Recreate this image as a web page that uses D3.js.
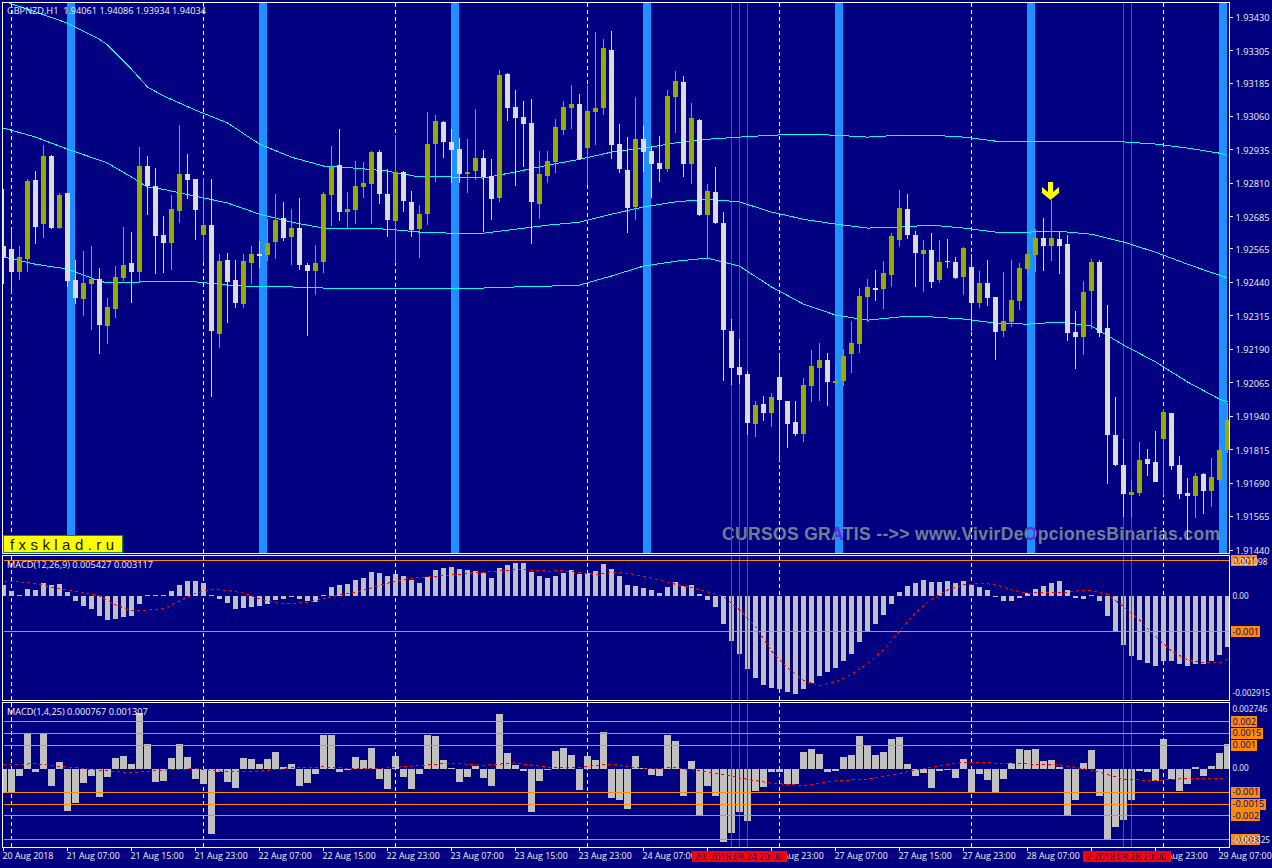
<!DOCTYPE html>
<html>
<head>
<meta charset="utf-8">
<title>GBPNZD,H1</title>
<script src="https://cdn.jsdelivr.net/npm/d3@7"></script>
<style>
  html, body { margin: 0; padding: 0; background: #000080; overflow: hidden; }
  svg { display: block; }
  text { font-family: "Open Sans", "Liberation Sans", sans-serif; font-size: 9.2px; fill: #f4f4fa; }
  .crisp { shape-rendering: crispEdges; }
</style>
</head>
<body>
<div id="chart-container"></div>
<script>
// All prices are MT4 points (price * 100000), MACD values are in 0.00001 units

var highs = [
  192788,192639,192576,192826,192856,192953,192915,192774,192774,192523,
  192557,192576,192493,192381,192501,192647,192628,192946,192912,192867,
  192688,192766,193028,192919,192826,192830,192826,192546,192550,192523,
  192546,192576,192594,192676,192770,192741,192714,192755,192512,192579,
  192778,192950,193013,192778,192893,192890,192930,192934,192863,192990,
  192856,192781,192729,193077,193065,193043,193013,192979,192975,193087,
  192934,192900,193234,193223,193159,193117,193125,192930,192930,193050,
  193117,193177,193144,193177,193376,193350,193379,193032,192983,193133,
  193025,192950,192987,193159,193230,193212,193110,193050,192807,192871,
  192703,192303,192228,192108,191996,192016,192027,192172,191996,191996,
  192082,192187,192213,192176,192131,192191,192295,192419,192452,192486,
  192519,192624,192785,192770,192631,192598,192624,192598,192601,192535,
  192572,192546,192482,192523,192385,192479,192523,192512,192576,192639,
  192680,192748,192628,192616,192333,192445,192527,192523,192355,192012,
  191855,191701,191843,191817,191884,191967,191952,191791,191709,191728,
  191728,191784,191840,191989
];
var lows = [
  192434,192400,192449,192479,192583,192605,192639,192639,192423,192359,
  192315,192262,192172,192209,192307,192445,192363,192438,192691,192471,
  192475,192486,192662,192751,192598,192516,192012,192194,192288,192344,
  192344,192434,192493,192519,192527,192594,192504,192486,192240,192392,
  192475,192651,192669,192639,192658,192755,192658,192733,192609,192512,
  192703,192609,192531,192654,192815,192904,192811,192811,192774,192822,
  192628,192673,192741,193043,192800,192871,192583,192676,192811,192849,
  192990,193013,192897,192803,192953,193065,192900,192849,192624,192673,
  192853,192755,192815,192853,192998,192834,192807,192688,192531,192658,
  192071,192056,192060,191869,191862,191921,191899,191772,191821,191866,
  191843,191993,191996,191978,192053,192053,192101,192176,192292,192370,
  192340,192423,192572,192601,192423,192404,192419,192438,192493,192452,
  192392,192258,192344,192352,192150,192236,192273,192337,192467,192479,
  192482,192519,192471,192221,192116,192169,192266,192236,191687,191754,
  191563,191560,191642,191716,191694,191645,191739,191631,191477,191560,
  191574,191601,191687,191802
];
var opens = [
  192576,192564,192479,192527,192822,192658,192912,192643,192774,192449,
  192377,192434,192452,192277,192340,192456,192512,192479,192875,192800,
  192616,192587,192706,192845,192826,192616,192654,192247,192523,192449,
  192359,192512,192546,192542,192591,192680,192609,192643,192504,192482,
  192516,192766,192878,192703,192710,192796,192807,192927,192770,192669,
  192853,192741,192639,192695,192957,193040,192965,192938,192845,192856,
  192904,192838,192755,193219,193095,193058,193036,192733,192838,192890,
  193009,193091,193106,192942,193077,193091,193308,192957,192860,192722,
  192975,192930,192886,192863,193133,193189,192882,193047,192691,192778,
  192662,192258,192124,192097,191910,191985,191952,192086,191996,191918,
  191873,192053,192120,192150,192064,192071,192172,192209,192385,192419,
  192415,192467,192598,192714,192616,192546,192561,192449,192519,192516,
  192460,192497,192363,192438,192385,192258,192292,192370,192490,192542,
  192605,192576,192601,192583,192254,192236,192408,192516,192269,191869,
  191758,191645,191653,191780,191769,191855,191952,191758,191653,191642,
  191724,191660,191701,191813
];
var closes = [
  192535,192479,192535,192818,192647,192912,192643,192766,192445,192381,
  192438,192452,192280,192348,192460,192504,192479,192875,192800,192613,
  192587,192714,192845,192822,192710,192654,192258,192519,192442,192363,
  192519,192546,192539,192587,192673,192605,192643,192504,192482,192512,
  192770,192871,192703,192714,192800,192811,192927,192770,192673,192853,
  192744,192635,192695,192957,193043,192965,192934,192845,192853,192904,
  192834,192751,193215,193091,193054,193032,192741,192845,192893,193021,
  193095,193106,192900,193080,193091,193316,192953,192863,192718,192975,
  192927,192882,192863,193137,193192,192882,193054,192691,192781,192662,
  192262,192120,192093,191914,191981,191952,192012,192000,191910,191873,
  192056,192128,192150,192068,192071,192165,192213,192389,192423,192411,
  192475,192613,192718,192616,192550,192561,192442,192516,192516,192456,
  192568,192363,192438,192381,192254,192295,192374,192493,192546,192605,
  192576,192605,192576,192251,192236,192404,192516,192251,191869,191758,
  191649,191657,191776,191761,191694,191955,191754,191649,191642,191716,
  191660,191713,191813,191925
];

// Moving average bands, read about every 4th bar plus the corners
var bandBars = [0,4,8,12,13,16,18,20,24,28,32,36,40,44,48,52,56,60,64,68,72,76,80,84,88,92,96,100,104,108,112,116,120,124,128,132,136,140,144,148,152,153];
var bandUpper = [193491,193451,193409,193349,193327,193237,193170,193137,193084,193036,192957,192908,192875,192867,192856,192834,192834,192830,192853,192878,192900,192927,192942,192961,192975,192983,192990,192994,192990,192983,192990,192990,192983,192968,192968,192968,192965,192965,192957,192942,192923,192915];
var bandMiddle = [193017,192983,192938,192897,192886,192834,192796,192788,192762,192737,192695,192665,192643,192643,192639,192628,192624,192624,192639,192654,192665,192695,192722,192741,192751,192741,192703,192676,192658,192643,192647,192654,192643,192628,192628,192631,192620,192591,192553,192508,192467,192456];
var bandLower = [192535,192508,192490,192445,192438,192438,192445,192445,192442,192430,192423,192423,192419,192419,192419,192419,192419,192419,192423,192426,192430,192464,192501,192519,192531,192501,192423,192359,192318,192299,192311,192311,192303,192288,192284,192292,192277,192206,192143,192068,192004,191993];

// MACD(12,26,9)
var macdAHist = [
  31,14,2,20,17,37,31,34,11,-14,
  -28,-37,-56,-68,-65,-59,-56,-23,2,4,
  2,14,31,42,42,37,2,-8,-20,-37,
  -34,-31,-28,-23,-11,-8,-2,-8,-14,-17,
  2,25,31,34,45,51,68,65,56,62,
  56,45,37,54,73,79,82,76,73,70,
  65,51,79,87,93,93,68,56,51,56,
  65,73,62,65,70,90,76,56,31,28,
  23,17,8,25,39,28,31,6,-11,-31,
  -79,-127,-163,-206,-231,-251,-259,-262,-270,-276,
  -262,-245,-225,-214,-203,-183,-163,-130,-99,-79,
  -54,-23,11,28,37,45,39,39,42,37,
  42,31,25,17,-3,-14,-14,-6,8,20,
  28,37,42,17,-6,-8,3,-14,-56,-99,
  -138,-169,-180,-189,-197,-183,-183,-192,-197,-192,
  -192,-183,-166,-144
];
var macdASignalBars = [0,2,4,6,8,10,12,14,16,18,20,22,24,26,28,30,32,34,36,38,40,42,44,46,48,50,52,54,56,58,60,62,64,66,68,70,72,74,76,78,80,82,84,86,88,90,92,94,96,98,100,102,104,106,108,110,112,114,116,118,120,122,124,126,128,130,132,134,136,138,140,142,144,146,148,150,152,153];
var macdASignal = [40,40,35,25,16,9,0,-25,-41,-40,-36,-14,8,19,16,8,-8,-19,-21,-17,-8,3,10,23,36,47,52,56,59,64,67,71,74,73,70,71,66,61,66,64,56,45,33,24,12,-2,-39,-86,-155,-202,-238,-252,-242,-221,-190,-152,-98,-47,-9,17,31,35,33,17,8,9,9,14,15,5,-30,-68,-115,-155,-180,-188,-188,-178];
var macdALevels = [100, -100];

// MACD(1,4,25)
var macdBHist = [
  -103,-97,-30,152,-13,152,-72,30,-178,-144,
  -59,-30,-118,-34,47,55,21,237,106,-55,
  -51,47,106,51,-42,-63,-275,-13,-55,-80,
  47,42,21,42,72,8,21,-72,-59,-21,
  144,144,-13,-4,51,38,89,-42,-85,55,
  -34,-85,-21,144,140,38,4,-55,-34,13,
  -38,-72,233,68,17,-8,-182,-51,-4,76,
  89,59,-89,55,38,157,-123,-131,-169,55,
  4,-25,-30,144,118,-114,34,-200,-72,-114,
  -309,-271,-182,-220,-93,-76,-13,-13,-63,-63,
  72,85,63,-13,-8,51,59,140,102,59,
  72,127,135,21,-30,-17,-80,-8,-4,-38,
  42,-103,-21,-47,-102,-42,25,85,80,85,
  34,38,8,-195,-131,25,80,-114,-296,-245,
  -216,-131,-8,-13,-51,127,-42,-93,-63,8,
  -30,13,68,106
];
var macdBSignalBars = [0,4,8,12,16,20,24,28,32,36,40,44,48,52,56,60,64,68,72,76,80,84,88,92,96,100,104,108,112,116,120,124,128,132,136,140,144,148,152,153];
var macdBSignal = [16,21,7,-6,-17,-6,0,-13,-11,3,8,0,3,14,24,14,25,6,6,20,0,4,-13,-39,-62,-71,-52,-44,-20,8,27,24,20,17,-6,-44,-51,-41,-42,-39];
var macdBLevels = [200, 150, 100, -100, -150, -200, -300];

var priceTicks = [193430,193305,193185,193060,192935,192810,192685,192565,192440,192315,192190,192065,191940,191815,191690,191565,191440];
var timeBars = [0,8,16,24,32,40,48,56,64,72,80,88,96,104,112,120,128,136,144,152];
// the two empty ones sit entirely under the red date tags
var timeLabels = ['20 Aug 2018','21 Aug 07:00','21 Aug 15:00','21 Aug 23:00','22 Aug 07:00','22 Aug 15:00','22 Aug 23:00','23 Aug 07:00','23 Aug 15:00','23 Aug 23:00','24 Aug 07:00','','24 Aug 23:00','27 Aug 07:00','27 Aug 15:00','27 Aug 23:00','28 Aug 07:00','','28 Aug 23:00','29 Aug 07:00'];
var separatorBars = [1,25,49,73,97,121,145];
var blueBars = [8,32,56,80,104,128,152];
var redLineBars = [91,92,93,140,141];
var arrowBar = 131;

var width = 1272, height = 868;
var plotLeft = 2.5, plotRight = 1229.5;

var bg = '#000080', olive = '#99AA00', gains = '#DCDCDC', silver = '#C0C0C0',
  cyan = '#00FFFF', blue = '#1E90FF', orange = '#FF8C00', crimson = '#DC143C';

var svg = d3.select('#chart-container').append('svg')
  .attr('width', width)
  .attr('height', height);

var defs = svg.append('defs');

var x = d3.scaleLinear().domain([0, 153]).range([3.5, 1227.5]);
var yPrice = d3.scaleLinear().domain([191440, 193430]).range([550, 17.5]);
var yA = d3.scaleLinear().domain([-100, 100]).range([631.5, 560.5]);
var yB = d3.scaleLinear().domain([-300, 200]).range([839.5, 721.5]);

// clip each panel to its frame
function addClip(id, top, bottom) {
  defs.append('clipPath').attr('id', id).append('rect')
    .attr('x', plotLeft + 0.5).attr('y', top)
    .attr('width', plotRight - plotLeft - 0.5).attr('height', bottom - top);
  return svg.append('g').attr('clip-path', 'url(#' + id + ')');
}

function verticals(g, bars, top, bottom, color, dash) {
  g.append('g').attr('class', 'crisp').selectAll('line')
    .data(bars).enter().append('line')
    .attr('x1', function (d) { return x(d); })
    .attr('x2', function (d) { return x(d); })
    .attr('y1', top).attr('y2', bottom)
    .attr('stroke', color)
    .attr('stroke-dasharray', dash);
}

// ---- main panel ----
var main = addClip('clip-main', 3, 553);

main.append('g').attr('class', 'crisp').selectAll('rect')
  .data(blueBars).enter().append('rect')
  .attr('x', function (d) { return x(d) - 0.5; })
  .attr('width', function (d) { return x(d + 1) - x(d); })
  .attr('y', 3).attr('height', 550)
  .attr('fill', blue);

// watermark turns purple where it crosses the blue bars
var markStart = 722, markWidth = 498;
var markFill = defs.append('linearGradient').attr('id', 'mark-fill')
  .attr('gradientUnits', 'userSpaceOnUse')
  .attr('x1', markStart).attr('x2', markStart + markWidth).attr('y1', 0).attr('y2', 0);
blueBars.forEach(function (b) {
  var a = (x(b) - 0.5 - markStart) / markWidth, e = (x(b + 1) - 0.5 - markStart) / markWidth;
  if (a < 0 || e > 1) return;
  markFill.append('stop').attr('offset', a).attr('stop-color', '#708090');
  markFill.append('stop').attr('offset', a).attr('stop-color', '#6A28D8');
  markFill.append('stop').attr('offset', e).attr('stop-color', '#6A28D8');
  markFill.append('stop').attr('offset', e).attr('stop-color', '#708090');
});
main.append('text')
  .attr('x', markStart).attr('y', 539.5)
  .attr('textLength', markWidth).attr('lengthAdjust', 'spacing')
  .style('font-family', '"Liberation Sans", sans-serif')
  .style('font-weight', 'bold').style('font-size', '17.5px')
  .style('fill', 'url(#mark-fill)')
  .text('CURSOS GRATIS -->> www.VivirDeOpcionesBinarias.com');

verticals(main, redLineBars, 3, 553, crimson, null);
verticals(main, separatorBars, 3, 553, '#fff', '4,3');

var bandLine = d3.line()
  .x(function (d) { return x(d.bar); })
  .y(function (d) { return yPrice(d.value); });

[bandUpper, bandMiddle, bandLower].forEach(function (band) {
  var pts = band.map(function (v, i) { return { bar: bandBars[i], value: v }; });
  main.append('path').datum(pts)
    .attr('class', 'crisp')
    .attr('d', bandLine)
    .attr('fill', 'none')
    .attr('stroke', cyan);
});

// candles: olive rising, white falling
var candles = opens.map(function (o, i) {
  return { i: i, o: o, h: highs[i], l: lows[i], c: closes[i] };
});
var candle = main.append('g').attr('class', 'crisp').selectAll('g')
  .data(candles).enter().append('g');
candle.append('line')
  .attr('x1', function (d) { return x(d.i); })
  .attr('x2', function (d) { return x(d.i); })
  .attr('y1', function (d) { return yPrice(d.h); })
  .attr('y2', function (d) { return yPrice(d.l); })
  .attr('stroke', function (d) { return d.c >= d.o ? olive : gains; });
candle.append('rect')
  .attr('x', function (d) { return x(d.i) - 2.5; })
  .attr('width', 5)
  .attr('y', function (d) { return yPrice(Math.max(d.o, d.c)); })
  .attr('height', function (d) { return Math.max(1, Math.abs(yPrice(d.o) - yPrice(d.c))); })
  .attr('fill', function (d) { return d.c >= d.o ? olive : gains; });

// sell arrow sitting on the wick of its bar
main.append('path')
  .attr('transform', 'translate(' + (x(arrowBar) - 1) + ',' + yPrice(highs[arrowBar]) + ')')
  .attr('d', 'M0,0 L-8.5,-7 L-8.5,-13 L-2.5,-8 L-2.5,-18 L2.5,-18 L2.5,-8 L8.5,-13 L8.5,-7 Z')
  .attr('fill', '#FFFF00');

// ---- indicator panels ----
function drawPanel(id, top, bottom, yScale, hist, sigBars, signal, levels, barWidth) {
  var g = addClip(id, top, bottom);
  verticals(g, separatorBars, top, bottom, '#fff', '4,3');

  g.append('g').attr('class', 'crisp').selectAll('rect')
    .data(hist).enter().append('rect')
    .attr('x', function (d, i) { return x(i) - barWidth / 2; })
    .attr('width', barWidth)
    .attr('y', function (d) { return Math.min(yScale(d), yScale(0)); })
    .attr('height', function (d) { return Math.max(1, Math.abs(yScale(d) - yScale(0))); })
    .attr('fill', silver);

  verticals(g, redLineBars, top, bottom, crimson, null);

  g.append('g').attr('class', 'crisp').selectAll('line')
    .data(levels).enter().append('line')
    .attr('x1', 4).attr('x2', plotRight)
    .attr('y1', function (d) { return yScale(d); })
    .attr('y2', function (d) { return yScale(d); })
    .attr('stroke', orange);

  var pts = signal.map(function (v, i) { return { bar: sigBars[i], value: v }; });
  g.append('path').datum(pts)
    .attr('class', 'crisp')
    .attr('d', d3.line()
      .x(function (d) { return x(d.bar); })
      .y(function (d) { return yScale(d.value); }))
    .attr('fill', 'none')
    .attr('stroke', '#FF0000')
    .attr('stroke-dasharray', '3,3');
}
drawPanel('clip-a', 556, 700, yA, macdAHist, macdASignalBars, macdASignal, macdALevels, 5);
drawPanel('clip-b', 703, 847, yB, macdBHist, macdBSignalBars, macdBSignal, macdBLevels, 7);

// ---- frames ----
var frames = svg.append('g').attr('class', 'crisp');
[[2.5, 553.5], [555.5, 700.5], [702.5, 847.5]].forEach(function (f) {
  frames.append('rect')
    .attr('x', plotLeft).attr('y', f[0])
    .attr('width', plotRight - plotLeft).attr('height', f[1] - f[0])
    .attr('fill', 'none').attr('stroke', '#fff');
});

// ---- axes ----
function styleAxis(g) {
  g.select('.domain').remove();
  g.selectAll('line').attr('stroke', '#fff').attr('class', 'crisp');
  g.selectAll('text').attr('fill', null);
}

var priceAxis = svg.append('g')
  .attr('transform', 'translate(' + plotRight + ',0)')
  .call(d3.axisRight(yPrice).tickValues(priceTicks).tickSize(3).tickPadding(3).offset(0)
    .tickFormat(function (d) { return (d / 100000).toFixed(5); }))
  .call(styleAxis);
priceAxis.selectAll('text').attr('dy', '0.42em');

var timeAxis = svg.append('g')
  .attr('transform', 'translate(0,847.5)')
  .call(d3.axisBottom(x).tickValues(timeBars).tickSize(3).tickPadding(2).offset(0)
    .tickFormat(function (d, i) { return timeLabels[i]; }))
  .call(styleAxis);
timeAxis.selectAll('text').attr('text-anchor', 'start').attr('x', -1).style('font-size', '8.9px');

// orange level tags, then the scale's own white labels over them
function levelTags(levels, yScale) {
  var tag = svg.append('g').selectAll('g')
    .data(levels).enter().append('g')
    .attr('transform', function (d) { return 'translate(1231,' + yScale(d) + ')'; });
  var rect = tag.append('rect').attr('class', 'crisp').attr('y', -5.5).attr('height', 11).attr('fill', orange);
  var label = tag.append('text').attr('x', 1.5).attr('dy', '0.34em')
    .style('fill', bg)
    .text(function (d) { return String(d / 100000); });
  rect.attr('width', function (d, i) { return label.nodes()[i].getComputedTextLength() + 3; });
}
levelTags(macdALevels, yA);
levelTags(macdBLevels, yB);

function extremes(yScale, ticks, labels, shift) {
  var g = svg.append('g')
    .attr('transform', 'translate(' + plotRight + ',0)')
    .call(d3.axisRight(yScale).tickValues(ticks).tickSize(0).tickPadding(3).offset(0)
      .tickFormat(function (d, i) { return labels[i]; }))
    .call(styleAxis);
  g.selectAll('text')
    .attr('dy', function (d, i) { return (shift[i] + 3.2) + 'px'; })
    .style('font-size', '8.2px');
}
extremes(yA, [109.8, 0, -291.5], ['0.001098', '0.00', '-0.002915'], [5, 0, -6.5]);
extremes(yB, [274.6, 0, -332.5], ['0.002746', '0.00', '-0.003325'], [5, -0.5, -7]);

// ---- labels ----
function label(px, py, txt) {
  return svg.append('text').attr('x', px).attr('y', py).text(txt);
}
label(7, 14, 'GBPNZD,H1  1.94061 1.94086 1.93934 1.94034').attr('xml:space', 'preserve');
label(7, 568, 'MACD(12,26,9) 0.005427 0.003117');
label(7, 714.5, 'MACD(1,4,25) 0.000767 0.001307');

// red date tags in the time scale
var dateTags = [
  { start: 691.5, end: 787, text: '20: 2018.08.24 20:00' },
  { start: 1083, end: 1171, text: '2 2018.08.28 20:00' }
];
dateTags.forEach(function (t) {
  svg.append('rect').attr('class', 'crisp')
    .attr('x', t.start).attr('y', 851).attr('width', t.end - t.start).attr('height', 11)
    .attr('fill', '#FF0000');
  label(t.start + 3, 860, t.text).style('fill', bg);
});

// fxsklad tag
svg.append('rect').attr('class', 'crisp')
  .attr('x', 3.5).attr('y', 535.5).attr('width', 119).attr('height', 17)
  .attr('fill', '#FFFF00').attr('stroke', '#0A8A50');
svg.append('text')
  .attr('x', 10).attr('y', 549.5)
  .attr('textLength', 104).attr('lengthAdjust', 'spacing')
  .style('font-family', '"Liberation Sans", sans-serif')
  .style('font-size', '15px').style('fill', '#102000')
  .text('fxsklad.ru');
</script>
</body>
</html>
